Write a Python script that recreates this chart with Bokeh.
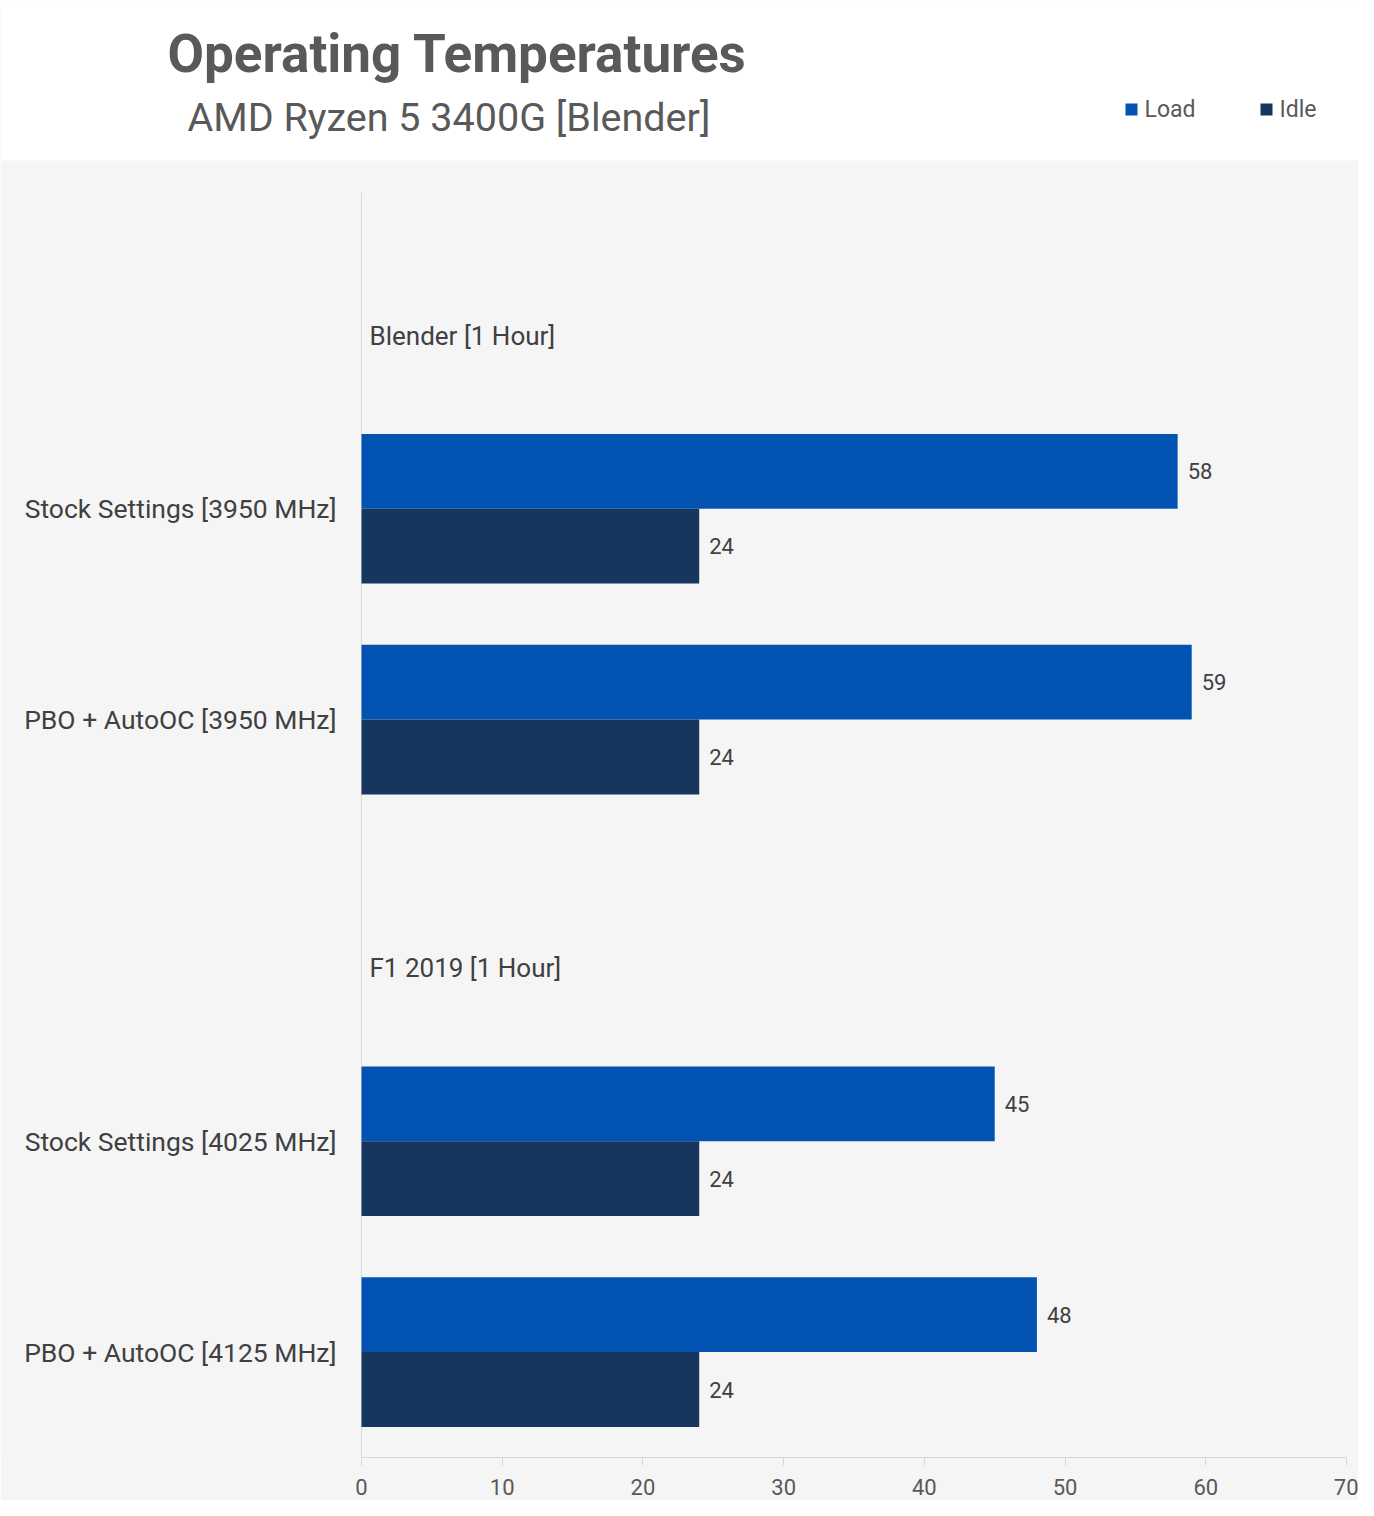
from bokeh.plotting import figure
from bokeh.models import Range1d, FixedTicker, ColumnDataSource
from bokeh.core.properties import value
from bokeh.embed import file_html
from bokeh.resources import INLINE

# ---- data ----
title = "Operating Temperatures"
subtitle = "AMD Ryzen 5 3400G [Blender]"
groups = ["Blender [1 Hour]", "F1 2019 [1 Hour]"]
group_categories = [
    ["Stock Settings [3950 MHz]", "PBO + AutoOC [3950 MHz]"],
    ["Stock Settings [4025 MHz]", "PBO + AutoOC [4125 MHz]"],
]
series = ["Load", "Idle"]
colors = ["#0353B3", "#17365D"]
load_values = [58, 59, 45, 48]
idle_values = [24, 24, 24, 24]
x_ticks = [0, 10, 20, 30, 40, 50, 60, 70]

# ---- layout constants (pixels) ----
FONT = "Roboto"
W, H = 1358, 1500
BG = "#F5F5F6"
LEFT, RIGHT, TOP, BOTTOM = 361, 1346, 192, 1457   # value-axis area
HEADER_H = 160
X0, X1 = 0, 70

n_slots = sum(1 + len(c) for c in group_categories)


def px_x(px):
    return X0 + (px - LEFT) * (X1 - X0) / (RIGHT - LEFT)


def px_y(py):
    return (py - TOP) * n_slots / (BOTTOM - TOP)


header_pos, cat_pos, cat_labels = [], [], []
slot = 0
for g, cats in zip(groups, group_categories):
    header_pos.append(slot + 0.5)
    slot += 1
    for c in cats:
        cat_pos.append(slot + 0.5)
        cat_labels.append(c)
        slot += 1

bar_h = 0.355
p = figure(width=W, height=H, output_backend="svg", toolbar_location=None,
           x_range=Range1d(px_x(0), px_x(W)), y_range=Range1d(px_y(BOTTOM), px_y(0)),
           y_axis_location=None,
           min_border_left=0, min_border_right=0, min_border_top=0, min_border_bottom=H - BOTTOM,
           border_fill_color=BG, background_fill_color=BG, outline_line_color=None)
p.grid.visible = False

# white header band
p.quad(left=px_x(0), right=px_x(W), top=px_y(0), bottom=px_y(HEADER_H),
       fill_color="white", line_color=None)

# title / subtitle
p.text(x=[px_x(167)], y=[px_y(53)], text=[title], text_font=value(FONT), text_font_size="53px",
       text_font_style="bold", text_color="#595959", text_baseline="middle", text_align="left")
p.text(x=[px_x(187)], y=[px_y(117)], text=[subtitle], text_font=value(FONT), text_font_size="39.5px",
       text_color="#595959", text_baseline="middle", text_align="left")

# legend
leg_px = [1125, 1260]
p.scatter(x=[px_x(v + 6) for v in leg_px], y=[px_y(109)] * len(series), marker="square", size=12,
          fill_color=colors, line_color=None)
p.text(x=[px_x(v + 19) for v in leg_px], y=[px_y(109)] * len(series), text=series,
       text_font=value(FONT), text_font_size="23px", text_color="#595959",
       text_baseline="middle", text_align="left")

# category axis (line + labels)
p.segment(x0=[0], y0=[0], x1=[0], y1=[n_slots], line_color="#D9D9D9", line_width=1)
p.text(x=[0] * len(cat_labels), y=cat_pos, text=cat_labels, x_offset=-25,
       text_font=value(FONT), text_font_size="26.5px", text_color="#404040",
       text_baseline="middle", text_align="right")

# bars
src = ColumnDataSource(dict(
    y_load=[y - bar_h / 2 for y in cat_pos],
    y_idle=[y + bar_h / 2 for y in cat_pos],
    load=load_values, idle=idle_values,
    load_txt=[str(v) for v in load_values], idle_txt=[str(v) for v in idle_values],
))
p.hbar(y="y_load", left=0, right="load", height=bar_h, source=src, fill_color=colors[0], line_color=None)
p.hbar(y="y_idle", left=0, right="idle", height=bar_h, source=src, fill_color=colors[1], line_color=None)
p.text(x="load", y="y_load", text="load_txt", source=src, x_offset=10, text_font=value(FONT),
       text_font_size="22px", text_color="#404040", text_baseline="middle", text_align="left")
p.text(x="idle", y="y_idle", text="idle_txt", source=src, x_offset=10, text_font=value(FONT),
       text_font_size="22px", text_color="#404040", text_baseline="middle", text_align="left")
p.text(x=[0] * len(groups), y=[h + 0.18 for h in header_pos], text=groups, x_offset=8,
       text_font=value(FONT), text_font_size="26px", text_color="#404040",
       text_baseline="middle", text_align="left")

# value axis
xa = p.xaxis[0]
xa.bounds = (X0, X1)
xa.ticker = FixedTicker(ticks=x_ticks)
xa.axis_line_color = "#D9D9D9"
xa.major_tick_line_color = "#D9D9D9"
xa.major_tick_out = 8
xa.major_tick_in = 0
xa.minor_tick_line_color = None
xa.major_label_text_font = FONT
xa.major_label_text_font_size = "22px"
xa.major_label_text_color = "#595959"
xa.major_label_standoff = 13

open("out.html", "w").write(file_html(p, INLINE))
